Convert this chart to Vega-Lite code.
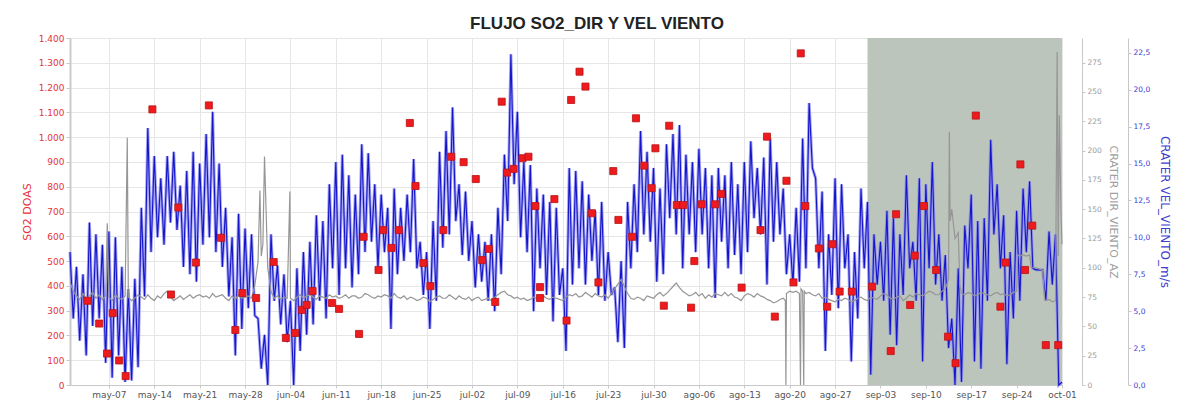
{
  "$schema": "https://vega.github.io/schema/vega-lite/v6.json",
  "width": 992,
  "height": 347,
  "autosize": {"type": "none"},
  "padding": {"left": 70, "top": 38, "right": 117, "bottom": 17},
  "background": "white",
  "title": {
    "text": "FLUJO SO2_DIR Y VEL VIENTO",
    "font": "Liberation Sans",
    "fontSize": 17,
    "fontWeight": "bold",
    "color": "#222222",
    "anchor": "middle",
    "dx": 31,
    "dy": 22,
    "offset": 10,
    "baseline": "alphabetic"
  },
  "config": {
    "view": {"stroke": null},
    "axis": {
      "labelFont": "DejaVu Sans",
      "titleFont": "DejaVu Sans",
      "labelFlush": false,
      "labelOverlap": false,
      "titleFontWeight": "normal"
    }
  },
  "datasets": {
    "band": [{"a": "09-01 00", "b": "10-01 00"}],
    "wind": [
      {"t":"05-01 00","w":9.0},{"t":"05-01 12","w":4.5},
      {"t":"05-02 00","w":8.0},{"t":"05-02 12","w":3.0},
      {"t":"05-03 00","w":7.5},{"t":"05-03 12","w":2.0},
      {"t":"05-04 00","w":11.0},{"t":"05-04 12","w":4.0},
      {"t":"05-05 00","w":10.2},{"t":"05-05 12","w":4.5},
      {"t":"05-06 00","w":9.5},{"t":"05-06 12","w":1.5},
      {"t":"05-07 00","w":10.4},{"t":"05-07 12","w":0.5},
      {"t":"05-08 00","w":10.0},{"t":"05-08 12","w":2.0},
      {"t":"05-09 00","w":8.0},{"t":"05-09 12","w":0.2},
      {"t":"05-10 00","w":6.5},{"t":"05-10 12","w":0.3},
      {"t":"05-11 00","w":7.2},{"t":"05-11 12","w":1.2},
      {"t":"05-12 00","w":12.0},{"t":"05-12 12","w":6.0},
      {"t":"05-13 00","w":17.4},{"t":"05-13 12","w":9.0},
      {"t":"05-14 00","w":15.5},{"t":"05-14 12","w":10.0},
      {"t":"05-15 00","w":14.0},{"t":"05-15 12","w":9.5},
      {"t":"05-16 00","w":15.5},{"t":"05-16 12","w":11.0},
      {"t":"05-17 00","w":15.8},{"t":"05-17 12","w":10.5},
      {"t":"05-18 00","w":13.5},{"t":"05-18 12","w":8.0},
      {"t":"05-19 00","w":14.5},{"t":"05-19 12","w":7.5},
      {"t":"05-20 00","w":15.8},{"t":"05-20 12","w":7.0},
      {"t":"05-21 00","w":15.0},{"t":"05-21 12","w":9.5},
      {"t":"05-22 00","w":17.0},{"t":"05-22 12","w":10.0},
      {"t":"05-23 00","w":18.5},{"t":"05-23 12","w":9.0},
      {"t":"05-24 00","w":15.0},{"t":"05-24 12","w":8.0},
      {"t":"05-25 00","w":12.0},{"t":"05-25 12","w":6.0},
      {"t":"05-26 00","w":10.0},{"t":"05-26 12","w":2.0},
      {"t":"05-27 00","w":11.6},{"t":"05-27 12","w":3.8},
      {"t":"05-28 00","w":10.6},{"t":"05-28 12","w":5.2},
      {"t":"05-29 00","w":10.2},{"t":"05-29 12","w":4.7},
      {"t":"05-30 00","w":4.5},{"t":"05-30 12","w":1.1},
      {"t":"05-31 00","w":3.4},{"t":"05-31 12","w":0.0},
      {"t":"06-01 00","w":10.2},{"t":"06-01 12","w":5.7},
      {"t":"06-02 00","w":8.1},{"t":"06-02 12","w":4.1},
      {"t":"06-03 00","w":7.5},{"t":"06-03 12","w":2.9},
      {"t":"06-04 00","w":5.7},{"t":"06-04 12","w":0.0},
      {"t":"06-05 00","w":7.9},{"t":"06-05 12","w":2.3},
      {"t":"06-06 00","w":9.0},{"t":"06-06 12","w":3.4},
      {"t":"06-07 00","w":9.7},{"t":"06-07 12","w":4.1},
      {"t":"06-08 00","w":11.5},{"t":"06-08 12","w":5.7},
      {"t":"06-09 00","w":11.1},{"t":"06-09 12","w":4.5},
      {"t":"06-10 00","w":13.6},{"t":"06-10 12","w":7.9},
      {"t":"06-11 00","w":15.1},{"t":"06-11 12","w":6.1},
      {"t":"06-12 00","w":15.6},{"t":"06-12 12","w":7.9},
      {"t":"06-13 00","w":14.2},{"t":"06-13 12","w":6.6},
      {"t":"06-14 00","w":12.9},{"t":"06-14 12","w":7.5},
      {"t":"06-15 00","w":16.3},{"t":"06-15 12","w":9.0},
      {"t":"06-16 00","w":15.7},{"t":"06-16 12","w":9.7},
      {"t":"06-17 00","w":13.6},{"t":"06-17 12","w":7.9},
      {"t":"06-18 00","w":12.9},{"t":"06-18 12","w":9.0},
      {"t":"06-19 00","w":12.0},{"t":"06-19 12","w":3.8},
      {"t":"06-20 00","w":13.3},{"t":"06-20 12","w":7.5},
      {"t":"06-21 00","w":12.0},{"t":"06-21 12","w":8.4},
      {"t":"06-22 00","w":12.9},{"t":"06-22 12","w":9.0},
      {"t":"06-23 00","w":15.3},{"t":"06-23 12","w":7.9},
      {"t":"06-24 00","w":9.7},{"t":"06-24 12","w":6.1},
      {"t":"06-25 00","w":9.0},{"t":"06-25 12","w":3.8},
      {"t":"06-26 00","w":11.1},{"t":"06-26 12","w":5.7},
      {"t":"06-27 00","w":15.8},{"t":"06-27 12","w":9.3},
      {"t":"06-28 00","w":17.2},{"t":"06-28 12","w":10.2},
      {"t":"06-29 00","w":18.8},{"t":"06-29 12","w":11.1},
      {"t":"06-30 00","w":13.6},{"t":"06-30 12","w":8.8},
      {"t":"07-01 00","w":13.1},{"t":"07-01 12","w":8.4},
      {"t":"07-02 00","w":11.1},{"t":"07-02 12","w":6.6},
      {"t":"07-03 00","w":10.2},{"t":"07-03 12","w":7.0},
      {"t":"07-04 00","w":9.7},{"t":"07-04 12","w":5.7},
      {"t":"07-05 00","w":10.2},{"t":"07-05 12","w":5.0},
      {"t":"07-06 00","w":12.0},{"t":"07-06 12","w":7.5},
      {"t":"07-07 00","w":15.6},{"t":"07-07 12","w":11.1},
      {"t":"07-08 00","w":22.4},{"t":"07-08 12","w":13.6},
      {"t":"07-09 00","w":18.5},{"t":"07-09 12","w":10.0},
      {"t":"07-10 00","w":15.1},{"t":"07-10 12","w":9.0},
      {"t":"07-11 00","w":14.9},{"t":"07-11 12","w":5.0},
      {"t":"07-12 00","w":13.3},{"t":"07-12 12","w":7.9},
      {"t":"07-13 00","w":12.9},{"t":"07-13 12","w":6.1},
      {"t":"07-14 00","w":12.4},{"t":"07-14 12","w":4.3},
      {"t":"07-15 00","w":12.0},{"t":"07-15 12","w":6.1},
      {"t":"07-16 00","w":7.9},{"t":"07-16 12","w":2.3},
      {"t":"07-17 00","w":14.7},{"t":"07-17 12","w":6.8},
      {"t":"07-18 00","w":14.5},{"t":"07-18 12","w":7.9},
      {"t":"07-19 00","w":13.8},{"t":"07-19 12","w":6.8},
      {"t":"07-20 00","w":12.9},{"t":"07-20 12","w":8.4},
      {"t":"07-21 00","w":11.8},{"t":"07-21 12","w":6.1},
      {"t":"07-22 00","w":12.4},{"t":"07-22 12","w":5.7},
      {"t":"07-23 00","w":9.0},{"t":"07-23 12","w":6.1},
      {"t":"07-24 00","w":6.6},{"t":"07-24 12","w":2.9},
      {"t":"07-25 00","w":8.4},{"t":"07-25 12","w":2.5},
      {"t":"07-26 00","w":12.4},{"t":"07-26 12","w":7.9},
      {"t":"07-27 00","w":13.6},{"t":"07-27 12","w":9.0},
      {"t":"07-28 00","w":17.2},{"t":"07-28 12","w":10.2},
      {"t":"07-29 00","w":15.8},{"t":"07-29 12","w":9.7},
      {"t":"07-30 00","w":14.7},{"t":"07-30 12","w":7.0},
      {"t":"07-31 00","w":13.3},{"t":"07-31 12","w":7.5},
      {"t":"08-01 00","w":16.3},{"t":"08-01 12","w":11.3},
      {"t":"08-02 00","w":17.0},{"t":"08-02 12","w":10.2},
      {"t":"08-03 00","w":17.6},{"t":"08-03 12","w":7.9},
      {"t":"08-04 00","w":15.6},{"t":"08-04 12","w":10.2},
      {"t":"08-05 00","w":15.1},{"t":"08-05 12","w":9.0},
      {"t":"08-06 00","w":16.0},{"t":"08-06 12","w":10.2},
      {"t":"08-07 00","w":14.7},{"t":"08-07 12","w":7.9},
      {"t":"08-08 00","w":14.2},{"t":"08-08 12","w":5.9},
      {"t":"08-09 00","w":14.7},{"t":"08-09 12","w":9.7},
      {"t":"08-10 00","w":14.2},{"t":"08-10 12","w":7.9},
      {"t":"08-11 00","w":15.1},{"t":"08-11 12","w":8.8},
      {"t":"08-12 00","w":13.6},{"t":"08-12 12","w":7.5},
      {"t":"08-13 00","w":15.1},{"t":"08-13 12","w":9.0},
      {"t":"08-14 00","w":16.5},{"t":"08-14 12","w":11.3},
      {"t":"08-15 00","w":14.7},{"t":"08-15 12","w":10.2},
      {"t":"08-16 00","w":15.4},{"t":"08-16 12","w":6.8},
      {"t":"08-17 00","w":16.7},{"t":"08-17 12","w":9.7},
      {"t":"08-18 00","w":15.1},{"t":"08-18 12","w":10.2},
      {"t":"08-19 00","w":13.3},{"t":"08-19 12","w":7.5},
      {"t":"08-20 00","w":10.2},{"t":"08-20 12","w":6.8},
      {"t":"08-21 00","w":12.0},{"t":"08-21 12","w":7.0},
      {"t":"08-22 00","w":16.7},{"t":"08-22 12","w":7.9},
      {"t":"08-23 00","w":19.1},{"t":"08-23 12","w":14.7},
      {"t":"08-24 00","w":14.0},{"t":"08-24 12","w":7.9},
      {"t":"08-25 00","w":13.1},{"t":"08-25 12","w":2.3},
      {"t":"08-26 00","w":10.2},{"t":"08-26 12","w":6.1},
      {"t":"08-27 00","w":14.0},{"t":"08-27 12","w":5.2},
      {"t":"08-28 00","w":13.6},{"t":"08-28 12","w":7.9},
      {"t":"08-29 00","w":10.2},{"t":"08-29 12","w":1.6},
      {"t":"08-30 00","w":9.0},{"t":"08-30 12","w":4.5},
      {"t":"08-31 00","w":13.3},{"t":"08-31 12","w":7.9},
      {"t":"09-01 00","w":12.4},{"t":"09-01 12","w":0.7},
      {"t":"09-02 00","w":10.2},{"t":"09-02 12","w":6.8},
      {"t":"09-03 00","w":9.7},{"t":"09-03 12","w":5.7},
      {"t":"09-04 00","w":11.8},{"t":"09-04 12","w":3.4},
      {"t":"09-05 00","w":11.3},{"t":"09-05 12","w":2.7},
      {"t":"09-06 00","w":10.2},{"t":"09-06 12","w":6.1},
      {"t":"09-07 00","w":14.2},{"t":"09-07 12","w":7.9},
      {"t":"09-08 00","w":9.7},{"t":"09-08 12","w":5.7},
      {"t":"09-09 00","w":14.0},{"t":"09-09 12","w":1.6},
      {"t":"09-10 00","w":13.6},{"t":"09-10 12","w":7.9},
      {"t":"09-11 00","w":15.1},{"t":"09-11 12","w":6.8},
      {"t":"09-12 00","w":10.2},{"t":"09-12 12","w":5.7},
      {"t":"09-13 00","w":8.8},{"t":"09-13 12","w":2.5},
      {"t":"09-14 00","w":4.5},{"t":"09-14 12","w":0.0},
      {"t":"09-15 00","w":7.9},{"t":"09-15 12","w":0.2},
      {"t":"09-16 00","w":10.8},{"t":"09-16 12","w":7.9},
      {"t":"09-17 00","w":12.9},{"t":"09-17 12","w":1.6},
      {"t":"09-18 00","w":11.1},{"t":"09-18 12","w":1.1},
      {"t":"09-19 00","w":11.3},{"t":"09-19 12","w":5.7},
      {"t":"09-20 00","w":16.6},{"t":"09-20 12","w":10.2},
      {"t":"09-21 00","w":13.6},{"t":"09-21 12","w":7.9},
      {"t":"09-22 00","w":11.5},{"t":"09-22 12","w":1.4},
      {"t":"09-23 00","w":9.0},{"t":"09-23 12","w":4.5},
      {"t":"09-24 00","w":11.8},{"t":"09-24 12","w":5.7},
      {"t":"09-25 00","w":13.3},{"t":"09-25 12","w":9.0},
      {"t":"09-26 00","w":13.8},{"t":"09-26 12","w":7.9},
      {"t":"09-27 00","w":7.8},{"t":"09-27 12","w":7.8},
      {"t":"09-28 00","w":7.8},{"t":"09-28 12","w":5.7},
      {"t":"09-29 00","w":10.4},{"t":"09-29 12","w":6.8},
      {"t":"09-30 00","w":10.2},{"t":"09-30 12","w":0.0},
      {"t":"10-01 00","w":0.2}
    ],
    "dir": [
      {"t":"05-01 00","g":88},{"t":"05-01 12","g":80},
      {"t":"05-02 00","g":76},{"t":"05-02 12","g":73},
      {"t":"05-03 00","g":78},{"t":"05-03 12","g":74},
      {"t":"05-04 00","g":76},{"t":"05-04 12","g":79},
      {"t":"05-05 00","g":74},{"t":"05-05 12","g":77},
      {"t":"05-06 00","g":73},{"t":"05-06 12","g":76},{"t":"05-06 18","g":138},
      {"t":"05-07 00","g":75},{"t":"05-07 12","g":72},
      {"t":"05-08 00","g":77},{"t":"05-08 12","g":74},
      {"t":"05-09 00","g":73},{"t":"05-09 12","g":76},{"t":"05-09 20","g":211},
      {"t":"05-10 00","g":75},{"t":"05-10 12","g":72},
      {"t":"05-11 00","g":74},{"t":"05-11 12","g":77},
      {"t":"05-12 00","g":75},{"t":"05-12 12","g":73},
      {"t":"05-13 00","g":77},{"t":"05-13 12","g":74},
      {"t":"05-14 00","g":72},{"t":"05-14 12","g":76},
      {"t":"05-15 00","g":74},{"t":"05-15 12","g":78},
      {"t":"05-16 00","g":80},{"t":"05-16 12","g":75},
      {"t":"05-17 00","g":72},{"t":"05-17 12","g":74},
      {"t":"05-18 00","g":76},{"t":"05-18 12","g":73},
      {"t":"05-19 00","g":75},{"t":"05-19 12","g":77},
      {"t":"05-20 00","g":74},{"t":"05-20 12","g":76},
      {"t":"05-21 00","g":77},{"t":"05-21 12","g":75},
      {"t":"05-22 00","g":76},{"t":"05-22 12","g":74},
      {"t":"05-23 00","g":78},{"t":"05-23 12","g":75},
      {"t":"05-24 00","g":76},{"t":"05-24 12","g":77},
      {"t":"05-25 00","g":74},{"t":"05-25 12","g":72},
      {"t":"05-26 00","g":76},{"t":"05-26 12","g":73},
      {"t":"05-27 00","g":77},{"t":"05-27 12","g":74},
      {"t":"05-28 00","g":75},{"t":"05-28 12","g":76},
      {"t":"05-29 00","g":74},{"t":"05-29 12","g":85},
      {"t":"05-30 00","g":105},{"t":"05-30 07","g":166},{"t":"05-30 12","g":110},{"t":"05-30 18","g":120},
      {"t":"05-31 00","g":195},{"t":"05-31 12","g":100},
      {"t":"06-01 00","g":80},{"t":"06-01 12","g":74},
      {"t":"06-02 00","g":76},{"t":"06-02 12","g":73},
      {"t":"06-03 00","g":75},{"t":"06-03 12","g":74},{"t":"06-03 22","g":165},
      {"t":"06-04 00","g":74},{"t":"06-04 12","g":72},
      {"t":"06-05 00","g":75},{"t":"06-05 12","g":77},
      {"t":"06-06 00","g":74},{"t":"06-06 12","g":76},
      {"t":"06-07 00","g":77},{"t":"06-07 12","g":75},
      {"t":"06-08 00","g":73},{"t":"06-08 12","g":76},
      {"t":"06-09 00","g":75},{"t":"06-09 12","g":74},
      {"t":"06-10 00","g":77},{"t":"06-10 12","g":75},
      {"t":"06-11 00","g":76},{"t":"06-11 12","g":74},
      {"t":"06-12 00","g":75},{"t":"06-12 12","g":77},
      {"t":"06-13 00","g":74},{"t":"06-13 12","g":76},
      {"t":"06-14 00","g":76},{"t":"06-14 12","g":74},
      {"t":"06-15 00","g":75},{"t":"06-15 12","g":78},
      {"t":"06-16 00","g":77},{"t":"06-16 12","g":75},
      {"t":"06-17 00","g":74},{"t":"06-17 12","g":76},
      {"t":"06-18 00","g":75},{"t":"06-18 12","g":77},
      {"t":"06-19 00","g":76},{"t":"06-19 12","g":74},
      {"t":"06-20 00","g":78},{"t":"06-20 12","g":75},
      {"t":"06-21 00","g":74},{"t":"06-21 12","g":76},
      {"t":"06-22 00","g":73},{"t":"06-22 12","g":75},
      {"t":"06-23 00","g":74},{"t":"06-23 12","g":72},
      {"t":"06-24 00","g":73},{"t":"06-24 12","g":75},
      {"t":"06-25 00","g":74},{"t":"06-25 12","g":71},
      {"t":"06-26 00","g":73},{"t":"06-26 12","g":75},
      {"t":"06-27 00","g":76},{"t":"06-27 12","g":74},
      {"t":"06-28 00","g":74},{"t":"06-28 12","g":77},
      {"t":"06-29 00","g":75},{"t":"06-29 12","g":73},
      {"t":"06-30 00","g":76},{"t":"06-30 12","g":74},
      {"t":"07-01 00","g":73},{"t":"07-01 12","g":75},
      {"t":"07-02 00","g":72},{"t":"07-02 12","g":74},
      {"t":"07-03 00","g":75},{"t":"07-03 12","g":72},
      {"t":"07-04 00","g":73},{"t":"07-04 12","g":74},
      {"t":"07-05 00","g":72},{"t":"07-05 12","g":75},
      {"t":"07-06 00","g":77},{"t":"07-06 12","g":79},
      {"t":"07-07 00","g":80},{"t":"07-07 12","g":77},
      {"t":"07-08 00","g":76},{"t":"07-08 12","g":74},
      {"t":"07-09 00","g":75},{"t":"07-09 12","g":73},
      {"t":"07-10 00","g":74},{"t":"07-10 12","g":72},
      {"t":"07-11 00","g":73},{"t":"07-11 12","g":75},
      {"t":"07-12 00","g":74},{"t":"07-12 12","g":72},
      {"t":"07-13 00","g":76},{"t":"07-13 12","g":74},
      {"t":"07-14 00","g":73},{"t":"07-14 12","g":75},
      {"t":"07-15 00","g":74},{"t":"07-15 12","g":73},
      {"t":"07-16 00","g":72},{"t":"07-16 12","g":75},
      {"t":"07-17 00","g":77},{"t":"07-17 12","g":76},
      {"t":"07-18 00","g":78},{"t":"07-18 12","g":75},
      {"t":"07-19 00","g":76},{"t":"07-19 12","g":79},
      {"t":"07-20 00","g":77},{"t":"07-20 12","g":75},
      {"t":"07-21 00","g":78},{"t":"07-21 12","g":76},
      {"t":"07-22 00","g":75},{"t":"07-22 12","g":77},
      {"t":"07-23 00","g":74},{"t":"07-23 12","g":78},
      {"t":"07-24 00","g":82},{"t":"07-24 12","g":86},
      {"t":"07-25 00","g":90},{"t":"07-25 12","g":84},
      {"t":"07-26 00","g":78},{"t":"07-26 12","g":74},
      {"t":"07-27 00","g":73},{"t":"07-27 12","g":75},
      {"t":"07-28 00","g":74},{"t":"07-28 12","g":72},
      {"t":"07-29 00","g":76},{"t":"07-29 12","g":75},
      {"t":"07-30 00","g":74},{"t":"07-30 12","g":77},
      {"t":"07-31 00","g":79},{"t":"07-31 12","g":76},
      {"t":"08-01 00","g":78},{"t":"08-01 12","g":81},
      {"t":"08-02 00","g":84},{"t":"08-02 12","g":87},
      {"t":"08-03 00","g":83},{"t":"08-03 12","g":80},
      {"t":"08-04 00","g":78},{"t":"08-04 12","g":76},
      {"t":"08-05 00","g":77},{"t":"08-05 12","g":79},
      {"t":"08-06 00","g":76},{"t":"08-06 12","g":78},
      {"t":"08-07 00","g":74},{"t":"08-07 12","g":77},
      {"t":"08-08 00","g":75},{"t":"08-08 12","g":78},
      {"t":"08-09 00","g":77},{"t":"08-09 12","g":76},
      {"t":"08-10 00","g":79},{"t":"08-10 12","g":76},
      {"t":"08-11 00","g":78},{"t":"08-11 12","g":75},
      {"t":"08-12 00","g":74},{"t":"08-12 12","g":72},
      {"t":"08-13 00","g":76},{"t":"08-13 12","g":78},
      {"t":"08-14 00","g":77},{"t":"08-14 12","g":75},
      {"t":"08-15 00","g":78},{"t":"08-15 12","g":76},
      {"t":"08-16 00","g":75},{"t":"08-16 12","g":73},
      {"t":"08-17 00","g":72},{"t":"08-17 12","g":70},
      {"t":"08-18 00","g":71},{"t":"08-18 12","g":73},
      {"t":"08-19 00","g":74},{"t":"08-19 08","g":72},{"t":"08-19 10","g":0},{"t":"08-19 12","g":78},
      {"t":"08-20 00","g":80},{"t":"08-20 12","g":79},
      {"t":"08-21 00","g":80},{"t":"08-21 12","g":78},{"t":"08-21 16","g":0},{"t":"08-21 18","g":82},
      {"t":"08-22 00","g":80},{"t":"08-22 04","g":0},{"t":"08-22 06","g":80},{"t":"08-22 12","g":78},
      {"t":"08-23 00","g":79},{"t":"08-23 12","g":77},
      {"t":"08-24 00","g":76},{"t":"08-24 12","g":78},
      {"t":"08-25 00","g":74},{"t":"08-25 12","g":75},
      {"t":"08-26 00","g":73},{"t":"08-26 12","g":72},
      {"t":"08-27 00","g":71},{"t":"08-27 12","g":73},
      {"t":"08-28 00","g":72},{"t":"08-28 12","g":74},
      {"t":"08-29 00","g":73},{"t":"08-29 12","g":71},
      {"t":"08-30 00","g":72},{"t":"08-30 12","g":74},
      {"t":"08-31 00","g":75},{"t":"08-31 12","g":73},
      {"t":"09-01 00","g":72},{"t":"09-01 12","g":75},
      {"t":"09-02 00","g":74},{"t":"09-02 12","g":73},
      {"t":"09-03 00","g":76},{"t":"09-03 12","g":78},
      {"t":"09-04 00","g":77},{"t":"09-04 12","g":74},
      {"t":"09-05 00","g":73},{"t":"09-05 12","g":75},
      {"t":"09-06 00","g":76},{"t":"09-06 12","g":72},
      {"t":"09-07 00","g":74},{"t":"09-07 12","g":77},
      {"t":"09-08 00","g":75},{"t":"09-08 12","g":78},
      {"t":"09-09 00","g":77},{"t":"09-09 12","g":76},
      {"t":"09-10 00","g":78},{"t":"09-10 12","g":80},
      {"t":"09-11 00","g":79},{"t":"09-11 12","g":77},
      {"t":"09-12 00","g":77},{"t":"09-12 12","g":80},
      {"t":"09-13 00","g":82},{"t":"09-13 12","g":90},{"t":"09-13 15","g":216},{"t":"09-13 18","g":140},
      {"t":"09-14 00","g":150},{"t":"09-14 12","g":125},
      {"t":"09-15 00","g":130},{"t":"09-15 06","g":85},{"t":"09-15 12","g":78},
      {"t":"09-16 00","g":77},{"t":"09-16 12","g":79},
      {"t":"09-17 00","g":78},{"t":"09-17 12","g":76},
      {"t":"09-18 00","g":77},{"t":"09-18 12","g":79},
      {"t":"09-19 00","g":78},{"t":"09-19 12","g":77},
      {"t":"09-20 00","g":76},{"t":"09-20 12","g":78},
      {"t":"09-21 00","g":79},{"t":"09-21 12","g":77},
      {"t":"09-22 00","g":78},{"t":"09-22 12","g":76},
      {"t":"09-23 00","g":77},{"t":"09-23 12","g":79},
      {"t":"09-24 00","g":80},{"t":"09-24 04","g":111},{"t":"09-24 12","g":110},
      {"t":"09-25 00","g":111},{"t":"09-25 12","g":110},
      {"t":"09-26 00","g":111},{"t":"09-26 06","g":100},{"t":"09-26 12","g":100},
      {"t":"09-27 00","g":100},{"t":"09-27 12","g":99},
      {"t":"09-28 00","g":98},{"t":"09-28 08","g":73},{"t":"09-28 12","g":72},
      {"t":"09-29 00","g":73},{"t":"09-29 12","g":71},
      {"t":"09-30 00","g":72},{"t":"09-30 06","g":284},{"t":"09-30 10","g":110},{"t":"09-30 14","g":230},{"t":"09-30 20","g":150},
      {"t":"10-01 00","g":120}
    ],
    "so2": [
      {"t":"05-03 17","s":340},{"t":"05-05 12","s":248},{"t":"05-06 17","s":127},
      {"t":"05-07 14","s":290},{"t":"05-08 14","s":99},{"t":"05-09 14","s":36},
      {"t":"05-13 17","s":1112},{"t":"05-16 14","s":365},{"t":"05-17 17","s":716},
      {"t":"05-20 10","s":494},{"t":"05-22 10","s":1128},{"t":"05-24 07","s":594},
      {"t":"05-26 12","s":222},{"t":"05-27 14","s":371},{"t":"05-29 17","s":351},
      {"t":"06-01 10","s":496},{"t":"06-03 07","s":190},{"t":"06-04 17","s":210},
      {"t":"06-05 19","s":303},{"t":"06-06 12","s":323},{"t":"06-07 10","s":379},
      {"t":"06-10 10","s":331},{"t":"06-11 12","s":307},{"t":"06-14 14","s":206},
      {"t":"06-15 07","s":598},{"t":"06-17 14","s":464},{"t":"06-18 07","s":625},
      {"t":"06-19 14","s":553},{"t":"06-20 17","s":625},{"t":"06-22 10","s":1057},
      {"t":"06-23 07","s":803},{"t":"06-24 12","s":492},{"t":"06-25 14","s":399},
      {"t":"06-27 14","s":625},{"t":"06-28 19","s":921},{"t":"06-30 17","s":899},
      {"t":"07-02 14","s":831},{"t":"07-03 14","s":504},{"t":"07-04 14","s":549},
      {"t":"07-05 14","s":335},{"t":"07-06 14","s":1143},{"t":"07-07 10","s":857},
      {"t":"07-08 10","s":872},{"t":"07-09 19","s":915},{"t":"07-10 17","s":921},
      {"t":"07-11 19","s":722},{"t":"07-12 12","s":395},{"t":"07-12 12","s":351},
      {"t":"07-14 17","s":750},{"t":"07-16 14","s":260},{"t":"07-17 07","s":1150},
      {"t":"07-18 14","s":1264},{"t":"07-19 12","s":1204},{"t":"07-20 12","s":693},
      {"t":"07-21 12","s":414},{"t":"07-23 19","s":863},{"t":"07-24 14","s":666},
      {"t":"07-26 17","s":598},{"t":"07-27 07","s":1076},{"t":"07-28 14","s":885},
      {"t":"07-29 17","s":794},{"t":"07-30 07","s":955},{"t":"07-31 14","s":320},
      {"t":"08-01 10","s":1046},{"t":"08-02 14","s":726},{"t":"08-03 14","s":726},
      {"t":"08-04 19","s":312},{"t":"08-05 07","s":500},{"t":"08-06 10","s":729},
      {"t":"08-08 12","s":729},{"t":"08-09 10","s":771},{"t":"08-12 14","s":393},
      {"t":"08-15 12","s":625},{"t":"08-16 12","s":1002},{"t":"08-17 17","s":276},
      {"t":"08-19 12","s":824},{"t":"08-20 14","s":414},{"t":"08-21 17","s":1338},
      {"t":"08-22 10","s":722},{"t":"08-24 12","s":551},{"t":"08-25 19","s":316},
      {"t":"08-26 14","s":568},{"t":"08-27 17","s":377},{"t":"08-29 14","s":377},
      {"t":"09-01 17","s":397},{"t":"09-04 14","s":137},{"t":"09-05 10","s":689},
      {"t":"09-07 14","s":323},{"t":"09-08 07","s":522},{"t":"09-09 17","s":722},
      {"t":"09-11 14","s":464},{"t":"09-13 10","s":195},{"t":"09-14 14","s":88},
      {"t":"09-17 17","s":1087},{"t":"09-21 12","s":316},{"t":"09-22 07","s":494},
      {"t":"09-24 14","s":890},{"t":"09-25 07","s":464},{"t":"09-26 10","s":643},
      {"t":"09-28 12","s":161},{"t":"09-30 10","s":161}
    ]
  },
  "layer": [
    {
      "data": {"name": "band", "format": {"parse": {"a": "utc:'%m-%d %H'", "b": "utc:'%m-%d %H'"}}},
      "mark": {"type": "rect", "color": "#BCC5BB"},
      "encoding": {
        "x": {
          "field": "a",
          "type": "temporal",
          "title": null,
          "scale": {
            "type": "utc",
            "domain": [
              {"year": 1900, "month": 5, "date": 1, "utc": true},
              {"year": 1900, "month": 10, "date": 1, "utc": true}
            ]
          },
          "axis": {
            "values": [
              {"year": 1900, "month": 5, "date": 7, "utc": true},
              {"year": 1900, "month": 5, "date": 14, "utc": true},
              {"year": 1900, "month": 5, "date": 21, "utc": true},
              {"year": 1900, "month": 5, "date": 28, "utc": true},
              {"year": 1900, "month": 6, "date": 4, "utc": true},
              {"year": 1900, "month": 6, "date": 11, "utc": true},
              {"year": 1900, "month": 6, "date": 18, "utc": true},
              {"year": 1900, "month": 6, "date": 25, "utc": true},
              {"year": 1900, "month": 7, "date": 2, "utc": true},
              {"year": 1900, "month": 7, "date": 9, "utc": true},
              {"year": 1900, "month": 7, "date": 16, "utc": true},
              {"year": 1900, "month": 7, "date": 23, "utc": true},
              {"year": 1900, "month": 7, "date": 30, "utc": true},
              {"year": 1900, "month": 8, "date": 6, "utc": true},
              {"year": 1900, "month": 8, "date": 13, "utc": true},
              {"year": 1900, "month": 8, "date": 20, "utc": true},
              {"year": 1900, "month": 8, "date": 27, "utc": true},
              {"year": 1900, "month": 9, "date": 3, "utc": true},
              {"year": 1900, "month": 9, "date": 10, "utc": true},
              {"year": 1900, "month": 9, "date": 17, "utc": true},
              {"year": 1900, "month": 9, "date": 24, "utc": true},
              {"year": 1900, "month": 10, "date": 1, "utc": true}
            ],
            "labelExpr": "['ene','feb','mar','abr','may','jun','jul','ago','sep','oct','nov','dic'][utcmonth(datum.value)] + '-' + utcFormat(datum.value, '%d')",
            "grid": true,
            "gridColor": "#E6E6E6",
            "domainColor": "#C8C8C8",
            "tickColor": "#C8C8C8",
            "tickSize": 3,
            "labelFontSize": 9,
            "labelColor": "#555555",
            "labelPadding": 2
          }
        },
        "x2": {"field": "b"}
      }
    },
    {
      "data": {"name": "wind", "format": {"parse": {"t": "utc:'%m-%d %H'"}}},
      "encoding": {
        "x": {"field": "t", "type": "temporal", "title": null},
        "y": {
          "field": "w",
          "type": "quantitative",
          "scale": {"domain": [0, 23.5], "nice": false, "zero": false},
          "axis": {
            "orient": "right",
            "offset": 66,
            "values": [0, 2.5, 5, 7.5, 10, 12.5, 15, 17.5, 20, 22.5],
            "labelExpr": "replace(format(datum.value, '.1f'), '.', ',')",
            "grid": false,
            "labelColor": "#3A3AD0",
            "labelFontSize": 7.5,
            "domainColor": "#C8C8C8",
            "tickColor": "#C8C8C8",
            "tickSize": 3,
            "title": "CRATER VEL_VIENTO_m/s",
            "titleColor": "#4040D0",
            "titleFontSize": 12,
            "titlePadding": 8
          }
        }
      },
      "layer": [
        {"mark": {"type": "line", "color": "#8585F2", "strokeWidth": 3, "opacity": 0.75}},
        {"mark": {"type": "line", "color": "#1414C8", "strokeWidth": 1.1}}
      ]
    },
    {
      "data": {"name": "dir", "format": {"parse": {"t": "utc:'%m-%d %H'"}}},
      "mark": {"type": "line", "color": "#969696", "strokeWidth": 1.2},
      "encoding": {
        "x": {"field": "t", "type": "temporal", "title": null},
        "y": {
          "field": "g",
          "type": "quantitative",
          "scale": {"domain": [0, 296], "nice": false, "zero": false},
          "axis": {
            "orient": "right",
            "offset": 20,
            "values": [0, 25, 50, 75, 100, 125, 150, 175, 200, 225, 250, 275],
            "grid": false,
            "labelColor": "#9A9A9A",
            "labelFontSize": 7.5,
            "domainColor": "#C8C8C8",
            "tickColor": "#C8C8C8",
            "tickSize": 3,
            "title": "CRATER DIR_VIENTO_AZ",
            "titleColor": "#A0A0A0",
            "titleFontSize": 11,
            "titlePadding": 6
          }
        }
      }
    },
    {
      "data": {"name": "so2", "format": {"parse": {"t": "utc:'%m-%d %H'"}}},
      "mark": {"type": "point", "shape": "square", "filled": true, "size": 50, "color": "#EE1A1E", "stroke": "#B81414", "strokeWidth": 0.8, "opacity": 1},
      "encoding": {
        "x": {"field": "t", "type": "temporal", "title": null},
        "y": {
          "field": "s",
          "type": "quantitative",
          "scale": {"domain": [0, 1400], "nice": false},
          "axis": {
            "orient": "left",
            "values": [0, 100, 200, 300, 400, 500, 600, 700, 800, 900, 1000, 1100, 1200, 1300, 1400],
            "labelExpr": "replace(format(datum.value, ','), ',', '.')",
            "grid": true,
            "gridColor": "#E6E6E6",
            "labelColor": "#E5333A",
            "labelFontSize": 9,
            "domainColor": "#CCCCCC",
            "domainWidth": 2,
            "tickColor": "#C8C8C8",
            "tickSize": 4,
            "title": "SO2 DOAS",
            "titleColor": "#E5333A",
            "titleFontSize": 11,
            "titlePadding": 6
          }
        }
      }
    }
  ],
  "resolve": {"scale": {"y": "independent"}, "axis": {"y": "independent"}}
}
